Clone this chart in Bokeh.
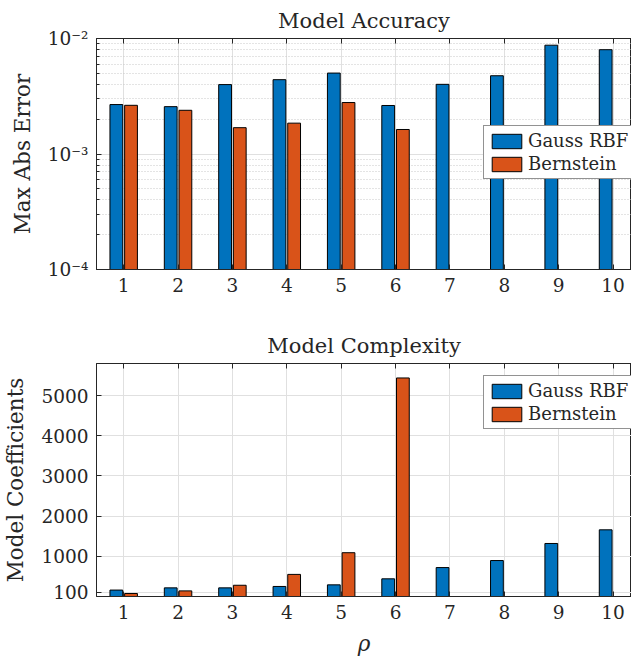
from bokeh.plotting import figure
from bokeh.layouts import column
from bokeh.models import (ColumnDataSource, FixedTicker, LinearAxis, Legend,
                          LegendItem, Range1d)
from bokeh.transform import dodge
from bokeh.embed import file_html
from bokeh.resources import INLINE

nan = float("nan")

rho = [1, 2, 3, 4, 5, 6, 7, 8, 9, 10]
err_gauss = [2.68e-3, 2.57e-3, 3.99e-3, 4.40e-3, 5.02e-3, 2.63e-3, 4.01e-3, 4.76e-3, 8.75e-3, 8.0e-3]
err_bern = [2.64e-3, 2.39e-3, 1.69e-3, 1.85e-3, 2.79e-3, 1.63e-3, nan, nan, nan, nan]
coef_gauss = [160, 215, 215, 250, 290, 440, 720, 895, 1320, 1660]
coef_bern = [75, 140, 280, 550, 1090, 5440, 0, 0, 0, 0]
coef_ticks = [100, 1000, 2000, 3000, 4000, 5000]
err_ticks = [1e-4, 1e-3, 1e-2]
err_tick_labels = ["10⁻⁴", "10⁻³", "10⁻²"]
err_minor_ticks = [2e-4, 3e-4, 4e-4, 5e-4, 6e-4, 7e-4, 8e-4, 9e-4,
                   2e-3, 3e-3, 4e-3, 5e-3, 6e-3, 7e-3, 8e-3, 9e-3]
series_names = ["Gauss RBF", "Bernstein"]

FONT = "DejaVu Serif"
TXT = "#262626"
BLUE = "#0072BD"
ORANGE = "#D95319"
GRID = "#e0e0e0"

src = ColumnDataSource(dict(rho=rho, eg=err_gauss, eb=err_bern,
                            cg=coef_gauss, cb=coef_bern))


def style(p):
    p.title.text_font = FONT
    p.title.text_font_size = "21px"
    p.title.text_font_style = "normal"
    p.title.text_color = TXT
    p.title.align = "center"
    p.title.offset = 4
    p.title.standoff = 12
    p.outline_line_color = TXT
    for ax in p.axis:
        ax.axis_line_color = TXT
        ax.major_tick_line_color = TXT
        ax.minor_tick_line_color = TXT
        ax.major_tick_in = 5
        ax.major_tick_out = 0
        ax.minor_tick_in = 3
        ax.minor_tick_out = 0
        ax.major_label_text_font = FONT
        ax.major_label_text_font_size = "18.5px"
        ax.major_label_text_color = TXT
        ax.major_label_standoff = 8
        ax.axis_label_text_font = FONT
        ax.axis_label_text_font_size = "21.5px"
        ax.axis_label_text_font_style = "normal"
        ax.axis_label_text_color = TXT
        ax.axis_label_standoff = 10
    p.xaxis.ticker = FixedTicker(ticks=rho)
    p.xaxis.minor_tick_line_color = None
    p.xgrid.ticker = FixedTicker(ticks=rho)
    p.xgrid.grid_line_color = GRID
    p.ygrid.grid_line_color = GRID
    top = LinearAxis(ticker=FixedTicker(ticks=rho), major_label_text_font_size="1px",
                     major_label_text_color=None,
                     axis_line_color=TXT, major_tick_line_color=TXT,
                     major_tick_in=5, major_tick_out=0, minor_tick_line_color=None,
                     major_label_standoff=0)
    p.add_layout(top, "above")
    p.toolbar_location = None


def legend(p, r1, r2, loc):
    lg = Legend(items=[LegendItem(label=series_names[0], renderers=[r1]),
                       LegendItem(label=series_names[1], renderers=[r2])],
                location=loc, label_text_font=FONT, label_text_font_size="18px",
                label_text_color=TXT, glyph_width=37, glyph_height=18,
                spacing=2, padding=4, margin=0, label_standoff=3,
                border_line_color=TXT, border_line_width=1,
                background_fill_alpha=1.0)
    p.add_layout(lg)


# Top: accuracy (log)
p1 = figure(width=631, height=310, y_axis_type="log",
            x_range=Range1d(0.5, 10.34), y_range=Range1d(1e-4, 1e-2),
            output_backend="svg", toolbar_location=None,
            title="Model Accuracy", min_border_left=87, min_border_right=0,
            min_border_top=37, min_border_bottom=41)
r1 = p1.vbar(x=dodge("rho", -0.135, range=p1.x_range), top="eg", bottom=1e-4,
             width=0.235, source=src, fill_color=BLUE, line_color="black", line_width=1)
r2 = p1.vbar(x=dodge("rho", 0.135, range=p1.x_range), top="eb", bottom=1e-4,
             width=0.235, source=src, fill_color=ORANGE, line_color="black", line_width=1)
p1.yaxis.axis_label = "Max Abs Error"
style(p1)
p1.yaxis.ticker = FixedTicker(ticks=err_ticks, minor_ticks=err_minor_ticks)
p1.ygrid.ticker = FixedTicker(ticks=err_ticks, minor_ticks=err_minor_ticks)
p1.yaxis.major_label_overrides = dict(zip(err_ticks, err_tick_labels))
p1.ygrid.minor_grid_line_color = "#c8c8c8"
p1.ygrid.minor_grid_line_dash = "1 2"
legend(p1, r1, r2, (387, 90))

# Bottom: complexity
p2 = figure(width=631, height=348,
            x_range=Range1d(0.5, 10.34), y_range=Range1d(0, 5800),
            output_backend="svg", toolbar_location=None,
            title="Model Complexity", min_border_left=87, min_border_right=0,
            min_border_top=53, min_border_bottom=62)
r3 = p2.vbar(x=dodge("rho", -0.135, range=p2.x_range), top="cg", bottom=0,
             width=0.235, source=src, fill_color=BLUE, line_color="black", line_width=1)
r4 = p2.vbar(x=dodge("rho", 0.135, range=p2.x_range), top="cb", bottom=0,
             width=0.235, source=src, fill_color=ORANGE, line_color="black", line_width=1)
p2.yaxis.axis_label = "Model Coefficients"
p2.xaxis.axis_label = "ρ"
style(p2)
p2.xaxis.axis_label_text_font_style = "italic"
p2.xaxis.axis_label_standoff = 9
p2.yaxis.ticker = FixedTicker(ticks=coef_ticks)
p2.ygrid.ticker = FixedTicker(ticks=coef_ticks)
p2.yaxis.minor_tick_line_color = None
legend(p2, r3, r4, (387, 167))

layout = column(p1, p2, spacing=0)
open("out.html", "w").write(file_html(layout, INLINE))
